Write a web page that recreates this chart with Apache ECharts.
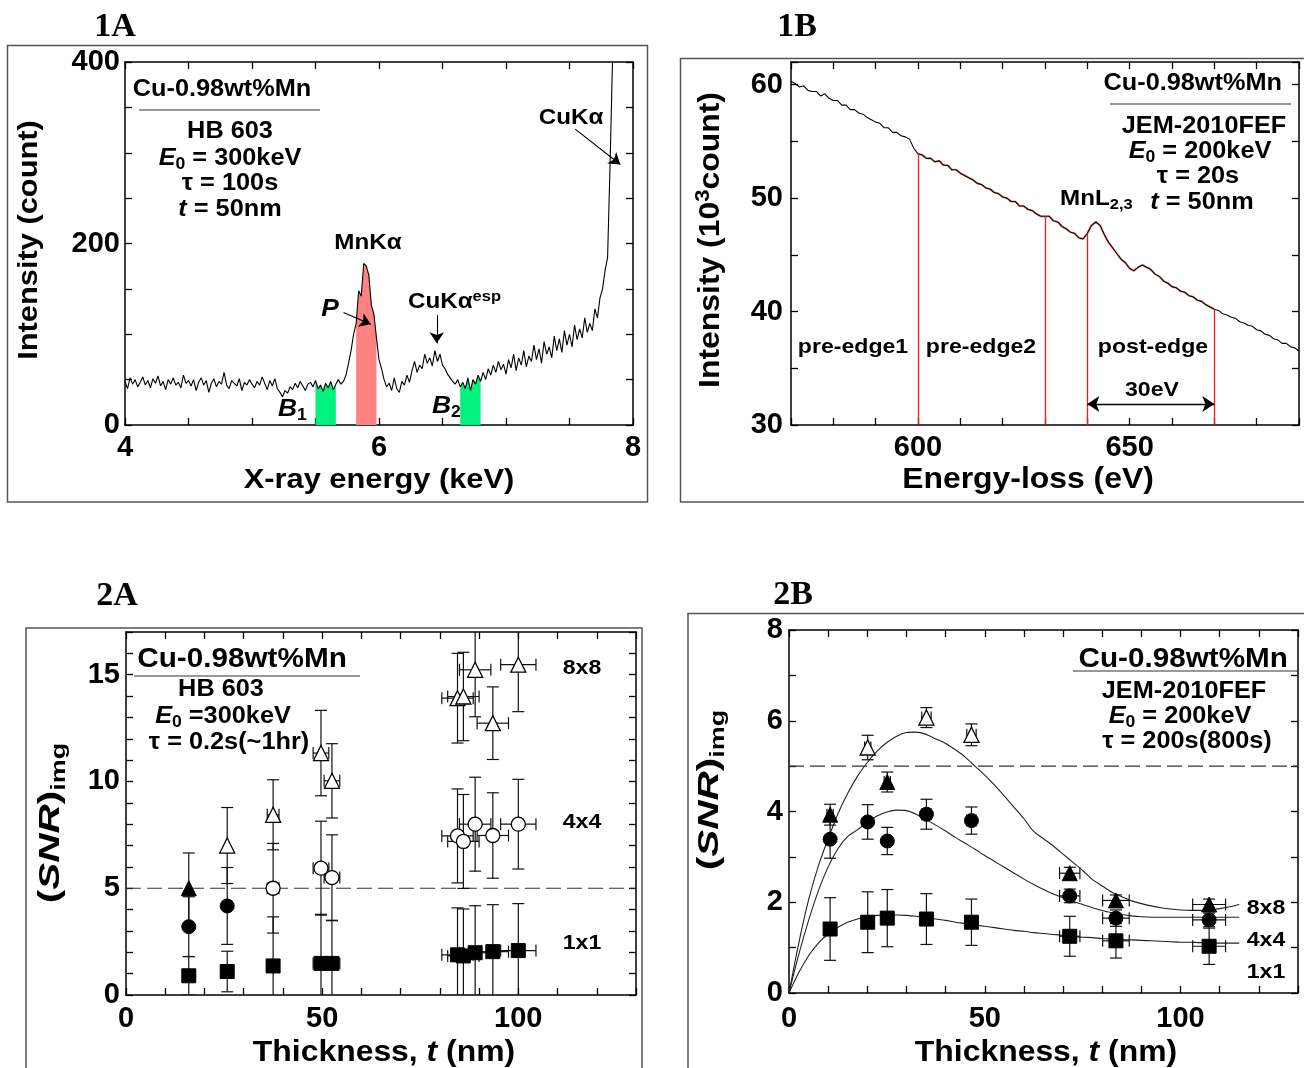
<!DOCTYPE html>
<html><head><meta charset="utf-8">
<script src="https://cdn.jsdelivr.net/npm/echarts/dist/echarts.min.js"></script>
<style>html,body{margin:0;padding:0;background:#fff}#c{width:1304px;height:1068px}</style>
</head><body><div id="c"></div>
<script>
// ---------------- DATA ----------------
// Panel 1A: EDX spectrum, counts per channel (channel width 0.02 keV, first channel 4.00 keV)
const edxStart = 4.0, edxStep = 0.02;
const edxCounts = [
 48,40,52,45,50,42,47,53,44,49, 41,51,46,54,43,48,39,50,45,52, 44,47,41,55,46,49,43,50,38,47,
 52,44,49,36,46,51,42,48,45,58, 44,40,49,46,43,51,38,47,44,50,
 45,41,48,44,53,46,39,49,43,51, 40,36,31,38,35,
 42,39,46,41,48,43,38,45,47,42,
 49,40,44,37,46,41,48,39,45,50,
 45,48,55,68,82,
 100,112,148,142,178,175,165,132,122,96,72,62,50,42,
 46,38,52,40,36,48,44,55,47,
 60,70,58,66,62,78,68,74,65,82,70,78,66,62,56,
 52,48,45,50,42,47,40,52,38,50,45,55,48,
 58,50,62,55,66,58,70,61,67,56, 72,63,78,60,74,66,82,64,76,70, 88,72,84,68,92,78,86,74,98,82,
 95,80,104,88,100,86,110,94,106,96,118,102,112,104,128,118,140,
 150,170,185,290,410
];
const edxWindowB1 = [5.50, 5.66];
const edxWindowP  = [5.82, 5.98];
const edxWindowB2 = [6.64, 6.80];

// Panel 1B: EELS spectrum (10^3 counts), 1 eV channels from 570 eV
const eelsStart = 570, eelsStep = 1;
const eelsCounts = [
 60.3,60.1,59.8,59.9,59.5,59.4,59.4,59.0,59.2,58.8,58.6,
 58.6,58.2,58.2,57.8,57.8,57.5,57.4,57.1,56.9,56.7,
 56.6,56.2,56.2,55.8,55.8,55.5,55.4,55.2,54.4,53.9,
 53.8,53.5,53.5,53.2,53.3,52.9,52.9,52.5,52.5,52.2,
 52.0,51.8,51.6,51.3,51.2,50.9,50.8,50.5,50.4,50.1,
 50.0,49.7,49.7,49.3,49.3,49.0,48.9,48.6,48.4,48.4,
 48.4,48.0,47.9,47.5,47.3,47.0,46.9,46.5,46.4,46.9,
 47.6,47.9,47.6,46.8,46.1,45.6,45.1,44.6,44.3,43.8,
 43.6,43.9,44.1,43.9,43.7,43.3,43.1,42.7,42.5,42.2,
 42.1,41.8,41.7,41.4,41.3,41.0,40.9,40.6,40.4,40.2,
 40.1,39.8,39.7,39.5,39.4,39.1,39.0,38.8,38.7,38.4,
 38.3,38.0,37.9,37.6,37.5,37.2,37.2,36.9,36.8,36.5
];
const eelsWindowEdges = [600, 630, 640, 670];
const eelsPostEdge = [640, 670];

// Panel 2A: (SNR)img vs thickness, HB 603
const thick2A    = [16, 25.8, 37.5, 49.7, 52.5, 84.5, 86, 89, 93.5, 100];
const thickErr2A = [0, 0, 1.5, 2, 2, 4, 4, 4, 4, 4.5];
const snr1x1_2A  = [0.9, 1.1, 1.36, 1.48, 1.48, 1.88, 1.83, 1.98, 2.03, 2.08];
const err1x1_2A  = [0.9, 0.95, 2.3, 2.3, 2.0, 2.2, 2.2, 2.2, 2.2, 2.2];
const snr4x4_2A  = [3.2, 4.17, 5.0, 5.94, 5.5, 7.45, 7.19, 8.0, 7.47, 8.0];
const err4x4_2A  = [1.4, 1.8, 2.1, 2.2, 2.0, 2.2, 2.2, 2.2, 2.0, 2.1];
const open4x4_2A = [0, 0, 1, 1, 1, 1, 1, 1, 1, 1];
const snr8x8_2A  = [5.0, 7.0, 8.44, 11.33, 10.03, 13.9, 13.98, 15.23, 12.73, 15.47];
const err8x8_2A  = [1.65, 1.78, 1.64, 2.0, 1.74, 2.1, 2.07, 2.2, 1.7, 2.2];
const open8x8_2A = [0, 1, 1, 1, 1, 1, 1, 1, 1, 1];

// Panel 2B: (SNR)img vs thickness, JEM-2010FEF
const thick2B    = [10.5, 20.1, 25.1, 35.1, 46.6, 71.7, 83.5, 107.3];
const thickErr2B = [0.8, 0.8, 0.8, 1.2, 1.2, 2.6, 3.4, 4.2];
const snr1x1_2B  = [1.41, 1.56, 1.65, 1.63, 1.56, 1.25, 1.15, 1.03];
const err1x1_2B  = [0.69, 0.67, 0.63, 0.56, 0.51, 0.44, 0.38, 0.4];
const snr4x4_2B  = [3.39, 3.77, 3.35, 3.94, 3.8, 2.14, 1.65, 1.61];
const err4x4_2B  = [0.42, 0.38, 0.3, 0.33, 0.3, 0.15, 0.18, 0.15];
const open4x4_2B = [0, 0, 0, 0, 0, 0, 0, 0];
const snr8x8_2B  = [3.93, 5.41, 4.65, 6.07, 5.69, 2.64, 2.04, 1.95];
const err8x8_2B  = [0.23, 0.27, 0.22, 0.22, 0.24, 0.13, 0.12, 0.12];
const open8x8_2B = [0, 1, 0, 1, 1, 0, 0, 0];

// Panel 2B fitted curves
const fitT = [0,2.5,5,7.5,10,12.5,15,17.5,20,22.5,25,27.5,30,32.5,35,37.5,40,42.5,45,47.5,50,52.5,55,57.5,60,62.5,65,67.5,70,72.5,75,77.5,80,82.5,85,87.5,90,92.5,95,97.5,100,102.5,105,107.5,110,112.5,115];
const fit8x8 = [0,1.1,2.05,2.8,3.4,3.95,4.4,4.78,5.08,5.33,5.52,5.66,5.74,5.75,5.7,5.6,5.5,5.36,5.2,5.0,4.8,4.58,4.34,4.09,3.84,3.56,3.4,3.24,3.06,2.88,2.7,2.5,2.36,2.22,2.12,2.03,1.97,1.92,1.88,1.85,1.83,1.82,1.82,1.83,1.86,1.9,1.95];
const fit4x4 = [0,0.85,1.6,2.25,2.78,3.18,3.45,3.6,3.76,3.9,3.99,4.03,4.02,3.94,3.82,3.7,3.57,3.43,3.3,3.17,3.03,2.9,2.77,2.64,2.51,2.39,2.28,2.18,2.1,2.02,1.95,1.88,1.82,1.77,1.73,1.7,1.68,1.67,1.67,1.67,1.67,1.67,1.67,1.67,1.67,1.67,1.67];
const fit1x1 = [0,0.45,0.82,1.1,1.3,1.45,1.56,1.63,1.68,1.71,1.72,1.72,1.71,1.69,1.66,1.63,1.6,1.56,1.53,1.5,1.47,1.44,1.41,1.38,1.36,1.33,1.31,1.29,1.27,1.25,1.23,1.22,1.2,1.19,1.18,1.17,1.16,1.15,1.14,1.13,1.12,1.12,1.11,1.11,1.1,1.1,1.1];

const snrThreshold = 5;

// ---------------- CHART ----------------
const FONT = '"Liberation Sans", Arial, Helvetica, sans-serif';
const SERIF = '"Liberation Serif", "Times New Roman", serif';

const grids = [
  {left:125, top:62, width:508, height:363},   // 1A
  {left:791, top:62, width:508, height:363},   // 1B
  {left:126, top:632, width:510, height:363},  // 2A
  {left:789, top:630, width:509, height:363}   // 2B
];

function mkAxes(gi, xc, yc) {
  const line = {show:true, onZero:false, lineStyle:{color:'#000', width:1.5}};
  const tick = {show:true, inside:true, length:7, lineStyle:{color:'#000', width:1.3}};
  const lab = (labels, margin) => ({show:true, margin, color:'#000', fontFamily:FONT, fontWeight:'bold', fontSize:29,
     formatter: v => labels.some(l => Math.abs(l - v) < 1e-6) ? String(v) : ''});
  const xb = {type:'value', gridIndex:gi, position:'bottom', min:xc.min, max:xc.max, interval:xc.interval,
     axisLine:line, axisTick:tick, axisLabel:lab(xc.labels, xc.margin), splitLine:{show:false}};
  const xt = Object.assign({}, xb, {position:'top', axisLabel:{show:false}});
  const yl = {type:'value', gridIndex:gi, position:'left', min:yc.min, max:yc.max, interval:yc.interval,
     axisLine:line, axisTick:tick, axisLabel:lab(yc.labels, yc.margin), splitLine:{show:false}};
  const yr = Object.assign({}, yl, {position:'right', axisLabel:{show:false}});
  return {x:[xb, xt], y:[yl, yr]};
}
const ax = [
  mkAxes(0, {min:4, max:8, interval:0.5, labels:[4,6,8], margin:8}, {min:0, max:400, interval:50, labels:[0,200,400], margin:5}),
  mkAxes(1, {min:570, max:690, interval:10, labels:[600,650], margin:8}, {min:30, max:62, interval:5, labels:[30,40,50,60], margin:8}),
  mkAxes(2, {min:0, max:130, interval:10, labels:[0,50,100], margin:9}, {min:0, max:17, interval:1, labels:[0,5,10,15], margin:6}),
  mkAxes(3, {min:0, max:130, interval:10, labels:[0,50,100], margin:11}, {min:0, max:8, interval:1, labels:[0,2,4,6,8], margin:6})
];
const xAxes = [], yAxes = [];
ax.forEach(a => { xAxes.push(a.x[0], a.x[1]); yAxes.push(a.y[0], a.y[1]); });

// spectra as [x, y]
const edxData = edxCounts.map((c, i) => [+(edxStart + i * edxStep).toFixed(2), c]);
const eelsData = eelsCounts.map((c, i) => [eelsStart + i * eelsStep, c]);
const inRange = (d, r) => d.filter(p => p[0] >= r[0] - 1e-9 && p[0] <= r[1] + 1e-9);
const eelsAt = e => eelsCounts[Math.round((e - eelsStart) / eelsStep)];

function fillSeries(data, color) {
  return {type:'line', xAxisIndex:0, yAxisIndex:0, data, showSymbol:false, symbol:'none',
    lineStyle:{width:0, opacity:0}, areaStyle:{color, opacity:1}, z:1, silent:true};
}
const arrowLine = (a, b, sym) => [{coord:a, symbol:sym ? sym[0] : 'none'}, {coord:b, symbol:sym ? sym[1] : 'arrow'}];

function errSeries(xi, yi, xs, ys, eys, exs, ymax) {
  return {
    type:'custom', xAxisIndex:xi, yAxisIndex:yi, silent:true, z:3, clip:true,
    data: xs.map((x, i) => [x, ys[i], eys[i], exs[i]]),
    encode:{x:0, y:1},
    renderItem: (params, api) => {
      const x = api.value(0), y = api.value(1), ey = api.value(2), ex = api.value(3);
      const st = {stroke:'#111', lineWidth:1.2};
      const ch = [];
      const c = api.coord([x, y]);
      const cap = 6;
      if (ey > 0) {
        const hiV = Math.min(y + ey, ymax), loV = Math.max(y - ey, 0);
        const hi = api.coord([x, hiV]), lo = api.coord([x, loV]);
        ch.push({type:'line', shape:{x1:c[0], y1:hi[1], x2:c[0], y2:lo[1]}, style:st});
        if (y + ey <= ymax) ch.push({type:'line', shape:{x1:c[0]-cap, y1:hi[1], x2:c[0]+cap, y2:hi[1]}, style:st});
        if (y - ey >= 0) ch.push({type:'line', shape:{x1:c[0]-cap, y1:lo[1], x2:c[0]+cap, y2:lo[1]}, style:st});
      }
      if (ex > 0) {
        const l = api.coord([x - ex, y]), r = api.coord([x + ex, y]);
        ch.push({type:'line', shape:{x1:l[0], y1:c[1], x2:r[0], y2:c[1]}, style:st});
        ch.push({type:'line', shape:{x1:l[0], y1:c[1]-cap, x2:l[0], y2:c[1]+cap}, style:st});
        ch.push({type:'line', shape:{x1:r[0], y1:c[1]-cap, x2:r[0], y2:c[1]+cap}, style:st});
      }
      return {type:'group', children:ch};
    }
  };
}
function markerSeries(xi, yi, xs, ys, flags, wantOpen, symbol, size) {
  const data = xs.map((x, i) => [x, ys[i]]).filter((p, i) => (!!flags[i]) === wantOpen);
  return {type:'scatter', xAxisIndex:xi, yAxisIndex:yi, data, symbol, symbolSize:size, z:5, silent:true,
    itemStyle: wantOpen ? {color:'#fff', borderColor:'#000', borderWidth:1.3, opacity:1}
                        : {color:'#000', borderColor:'#000', borderWidth:1, opacity:1}};
}
const zeros = n => new Array(n).fill(0);

function panelSNR(xi, yi, t, te, s1, e1, s4, e4, o4, s8, e8, o8, ymax) {
  return [
    {type:'line', xAxisIndex:xi, yAxisIndex:yi, data:[[0, snrThreshold], [130, snrThreshold]], showSymbol:false, symbol:'none',
      lineStyle:{color:'#333', width:1.2, type:[15, 6]}, z:2, silent:true},
    errSeries(xi, yi, t, s8, e8, te, ymax),
    errSeries(xi, yi, t, s4, e4, te, ymax),
    errSeries(xi, yi, t, s1, e1, te, ymax),
    markerSeries(xi, yi, t, s8, o8, false, 'triangle', 15),
    markerSeries(xi, yi, t, s8, o8, true, 'triangle', 15),
    markerSeries(xi, yi, t, s4, o4, false, 'circle', 14),
    markerSeries(xi, yi, t, s4, o4, true, 'circle', 14),
    markerSeries(xi, yi, t, s1, zeros(t.length), false, 'rect', 14)
  ];
}

const series = [
  // 1A
  fillSeries(inRange(edxData, edxWindowB1), '#00f27c'),
  fillSeries(inRange(edxData, edxWindowP), '#ff8282'),
  fillSeries(inRange(edxData, edxWindowB2), '#00f27c'),
  {type:'line', xAxisIndex:0, yAxisIndex:0, data:edxData, showSymbol:false, symbol:'none',
    lineStyle:{color:'#000', width:1.1}, z:3, silent:true, clip:true,
    markLine:{silent:true, symbolSize:11, animation:false, label:{show:false},
      lineStyle:{color:'#000', width:1.1, type:'solid'},
      data:[arrowLine([5.72, 124], [5.935, 111]), arrowLine([6.455, 121], [6.455, 90]), arrowLine([7.545, 326], [7.90, 287])]}},
  // 1B
  {type:'line', xAxisIndex:2, yAxisIndex:2, data:inRange(eelsData, [600, 670]), showSymbol:false, symbol:'none',
    lineStyle:{color:'rgba(235,60,60,0.55)', width:2.2}, z:2, silent:true,
    markLine:{silent:true, symbol:'none', animation:false, label:{show:false},
      lineStyle:{color:'#ff1a1a', width:1.3, type:'solid'},
      data: eelsWindowEdges.map(e => [{coord:[e, 30]}, {coord:[e, eelsAt(e)]}])}},
  {type:'line', xAxisIndex:2, yAxisIndex:2, data:eelsData, showSymbol:false, symbol:'none',
    lineStyle:{color:'#000', width:1.1}, z:3, silent:true,
    markLine:{silent:true, symbolSize:12, animation:false, label:{show:false},
      lineStyle:{color:'#000', width:1.3, type:'solid'},
      data:[arrowLine([eelsPostEdge[0], 31.85], [eelsPostEdge[1], 31.85], ['arrow', 'arrow'])]}},
  // 2A
  ...panelSNR(4, 4, thick2A, thickErr2A, snr1x1_2A, err1x1_2A, snr4x4_2A, err4x4_2A, open4x4_2A, snr8x8_2A, err8x8_2A, open8x8_2A, 17),
  // 2B
  ...[fit8x8, fit4x4, fit1x1].map(f => ({type:'line', xAxisIndex:6, yAxisIndex:6, data:fitT.map((t, i) => [t, f[i]]),
    showSymbol:false, symbol:'none', smooth:0.3, lineStyle:{color:'#222', width:1.1}, z:2, silent:true})),
  ...panelSNR(6, 6, thick2B, thickErr2B, snr1x1_2B, err1x1_2B, snr4x4_2B, err4x4_2B, open4x4_2B, snr8x8_2B, err8x8_2B, open8x8_2B, 8)
];

// ---------------- TEXT / FRAMES ----------------
function rich(size) {
  const lh = Math.round(size * 1.2);
  const sub = Math.round(size * 0.68);
  return {
    n:{fontSize:size, fontWeight:'bold', fontFamily:FONT, lineHeight:lh},
    i:{fontSize:size, fontWeight:'bold', fontStyle:'italic', fontFamily:FONT, lineHeight:lh},
    s:{fontSize:sub, fontWeight:'bold', fontFamily:FONT, lineHeight:Math.round(size * 0.5), verticalAlign:'bottom'},
    u:{fontSize:sub, fontWeight:'bold', fontFamily:FONT, lineHeight:Math.round(size * 0.5), verticalAlign:'top'}
  };
}
function T(x, y, text, size, o) {
  o = o || {};
  return {type:'text', x, y, rotation:o.rot || 0, scaleX:o.sx || 1.1, scaleY:1, z:100, silent:true,
    style:{text, fill:'#000', fontFamily:o.family || FONT, fontWeight:'bold', fontSize:size,
      fontStyle:o.italic ? 'italic' : 'normal', align:o.align || 'center', verticalAlign:'middle', rich:rich(size)}};
}
const L = (x1, y1, x2, y2) => ({type:'line', z:100, silent:true, shape:{x1, y1, x2, y2}, style:{stroke:'#333', lineWidth:1.2}});
const R = (x, y, w, h) => ({type:'rect', z:0, silent:true, shape:{x, y, width:w, height:h}, style:{fill:'none', stroke:'#555', lineWidth:1.5}});
const V = Math.PI / 2;

const graphic = [
  R(7.5, 45.5, 640, 456.5), R(680.5, 58.5, 660, 443.5), R(26, 628, 616, 480), R(688, 613.5, 660, 480),
  // titles
  T(115, 27, '1A', 34, {family:SERIF, sx:1}), T(797, 27, '1B', 34, {family:SERIF, sx:1}),
  T(117, 596, '2A', 34, {family:SERIF, sx:1}), T(793, 595, '2B', 34, {family:SERIF, sx:1}),
  // 1A
  T(222, 90, 'Cu-0.98wt%Mn', 23), L(139, 110, 320, 110),
  T(230, 132, 'HB 603', 23), T(230, 159, '{i|E}{s|0}{n| = 300keV}', 23),
  T(230, 184, 'τ = 100s', 23), T(230, 210, '{i|t}{n| = 50nm}', 23),
  T(368, 243, 'MnKα', 22), T(330, 309, 'P', 24, {italic:true}),
  T(408, 302, '{n|CuKα}{u|esp}', 22, {align:'left'}), T(571, 118, 'CuKα', 22),
  T(278, 409, '{i|B}{s|1}', 24, {align:'left'}), T(432, 406, '{i|B}{s|2}', 24, {align:'left'}),
  T(379, 480, 'X-ray energy (keV)', 28), T(29, 240, 'Intensity (count)', 28, {rot:V}),
  // 1B
  T(1282, 84, 'Cu-0.98wt%Mn', 23, {align:'right'}), L(1110, 104, 1291, 104),
  T(1204, 127, 'JEM-2010FEF', 23), T(1200, 152, '{i|E}{s|0}{n| = 200keV}', 23),
  T(1198, 177, 'τ = 20s', 23), T(1202, 203, '{i|t}{n| = 50nm}', 23),
  T(1060, 199, '{n|MnL}{s|2,3}', 22, {align:'left'}),
  T(853, 347, 'pre-edge1', 21), T(981, 347, 'pre-edge2', 21), T(1153, 347, 'post-edge', 21),
  T(1152, 390, '30eV', 21),
  T(1028, 480, 'Energy-loss (eV)', 29), T(711, 240, '{n|Intensity (10}{u|3}{n|count)}', 29, {rot:V}),
  // 2A
  T(242, 660, 'Cu-0.98wt%Mn', 27), L(134, 676, 360, 676),
  T(221, 690, 'HB 603', 23), T(223, 717, '{i|E}{s|0}{n| =300keV}', 23), T(229, 743, 'τ = 0.2s(~1hr)', 23),
  T(582, 668, '8x8', 21), T(582, 822, '4x4', 21), T(582, 943, '1x1', 21),
  T(384, 1053, '{n|Thickness, }{i|t}{n| (nm)}', 29), T(51, 823, '{n|(}{i|SNR}{n|)}{s|img}', 30, {rot:V, sx:1.35}),
  // 2B
  T(1288, 660, 'Cu-0.98wt%Mn', 27, {align:'right'}), L(1073, 671, 1299, 671),
  T(1184, 692, 'JEM-2010FEF', 23), T(1180, 717, '{i|E}{s|0}{n| = 200keV}', 23), T(1187, 742, 'τ = 200s(800s)', 23),
  T(1266, 908, '8x8', 21), T(1266, 940, '4x4', 21), T(1266, 972, '1x1', 21),
  T(1046, 1053, '{n|Thickness, }{i|t}{n| (nm)}', 29), T(710, 790, '{n|(}{i|SNR}{n|)}{s|img}', 30, {rot:V, sx:1.35})
];

const chart = echarts.init(document.getElementById('c'), null, {renderer:'canvas'});
chart.setOption({
  animation:false,
  backgroundColor:'#fff',
  grid:grids.map(g => Object.assign({containLabel:false}, g)),
  xAxis:xAxes, yAxis:yAxes,
  series, graphic
});
</script></body></html>
